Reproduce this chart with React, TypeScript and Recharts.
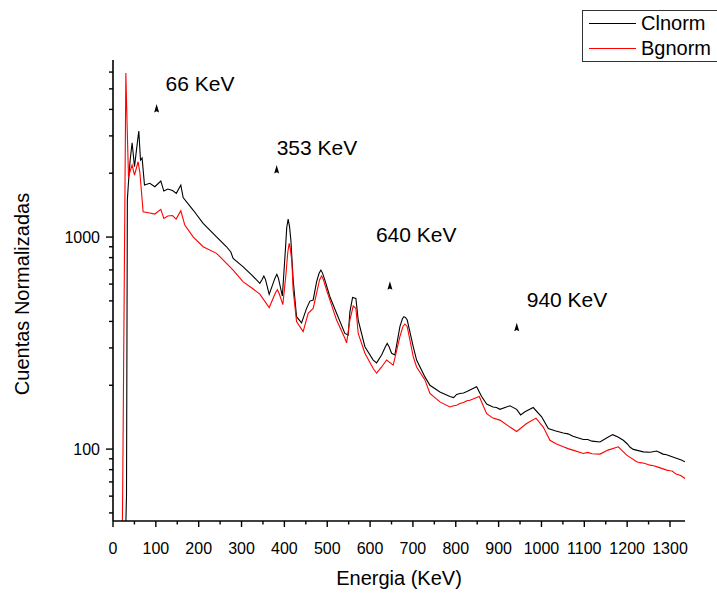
import { LineChart, Line, XAxis, YAxis, ReferenceDot, Legend } from "recharts";

// Clnorm spectrum (energy in KeV, normalized counts)
const clEnergy = [
  26, 31.5, 33.5, 36.2, 40, 44.6, 50.2, 55, 60.2, 64.2, 67.9, 73.5, 85.9, 97.6, 111.6, 118.6, 127.9, 138.9,
  147.8, 158.3, 163.7, 187, 210.4, 241.6, 265, 275, 280.4, 303.8, 324.1, 342.7, 348, 352.1, 356, 364.5, 378,
  382.4, 386, 395.3, 402.3, 405.5, 408.8, 412, 415.1, 420.5, 428.4, 440.1, 451.8, 459.5, 467.2, 475.1, 481,
  485.2, 489, 494.5, 506.2, 521.8, 541.2, 548.9, 552.9, 559.2, 566.9, 572.3, 587.9, 607.3, 615.2, 626.9, 636,
  640, 644, 650.2, 657.9, 669.6, 675.5, 679, 683, 686.7, 700.7, 708.6, 728, 739.7, 763, 786.4, 795, 802, 809.7,
  818, 826, 833.1, 848.7, 860.4, 872.1, 886.8, 895, 903.1, 926.4, 942.1, 951.4, 961.5, 980.8, 1000.4, 1015.9,
  1031.5, 1050.9, 1062, 1073.5, 1097.6, 1108, 1117.9, 1136.6, 1152.9, 1166.2, 1178.6, 1191, 1200, 1207, 1214.3,
  1237.7, 1253.3, 1269, 1283.7, 1292, 1300, 1316.4, 1325, 1335,
];
const clCounts = [
  20, 60, 1500, 1823, 2300, 2785, 2146, 2600, 3162, 2307, 2359, 1759, 1792, 1727, 1837, 1648, 1684, 1657,
  1607, 1759, 1536, 1341, 1160, 1003, 900, 850, 793, 724, 662, 605, 630, 655, 630, 537, 640,
  667, 640, 527, 868, 1110, 1216, 1120, 968, 627, 421, 394, 461, 499, 505, 615, 675,
  699, 676, 627, 523, 437, 351, 345, 444, 519, 514, 406, 304, 263, 255, 278, 305,
  315, 305, 283, 278, 378, 412, 421, 417, 406, 304, 263, 219, 200, 186, 177, 175, 181, 183,
  184, 187, 190, 197, 177, 163, 158, 157, 154, 160, 154, 145, 150, 157, 142, 125,
  122, 119, 118, 115, 111, 111, 109, 108, 113, 117, 114, 110, 106, 102, 99.7,
  97, 96.7, 97.9, 94.7, 94, 92.7, 90.2, 89, 87.1,
];

// Bgnorm spectrum
const bgEnergy = [
  20, 22.5, 30, 32.9, 36.2, 39.2, 44.6, 50.2, 58.6, 62.6, 70.3, 85.9, 97.6, 111.6, 118.6, 127.9, 138.9, 147.3,
  158.3, 167.6, 187, 210.4, 241.6, 265, 280.4, 303.8, 324.1, 342.7, 364.5, 379, 383.6, 388, 396.4, 403.5, 408,
  411.2, 414, 417.5, 420.5, 428.4, 443.8, 455.5, 467.2, 475.1, 482, 486.8, 491, 498.5, 521.8, 541.2, 545.2,
  552.9, 560.6, 566.9, 572.3, 587.9, 607.3, 615.2, 626.9, 638.6, 654, 669.6, 677, 681.3, 686.7, 700.7, 708.6,
  728, 739.7, 763, 786.4, 795, 802, 809.7, 818, 826, 833.1, 854.8, 872.1, 886.8, 903.1, 926.4, 942.1, 965.4,
  987.2, 1004.2, 1019.8, 1033.8, 1050.9, 1062, 1073.5, 1097.6, 1108, 1117.9, 1136.6, 1155.3, 1179.3, 1198.9,
  1222.3, 1230, 1240, 1253.3, 1262, 1272, 1292.3, 1300, 1305, 1314.1, 1325, 1335,
];
const bgCounts = [
  20, 60, 5935, 3375, 1919, 2026, 2186, 1961, 2266, 2026, 1316, 1298, 1284, 1351, 1225, 1256, 1263, 1216,
  1331, 1139, 1003, 900, 838, 751, 699, 615, 575, 538, 465, 545, 565, 540, 480, 662, 850,
  934, 880, 762, 562, 399, 358, 437, 461, 543, 628, 655, 630, 562, 406, 333, 317,
  406, 473, 461, 351, 283, 240, 228, 244, 263, 249, 339, 380, 389, 378, 273, 244,
  212, 183, 167, 158, 160, 161, 164, 166, 169, 170, 177, 147, 140, 137, 127, 121, 132,
  140, 127, 110, 106, 102.5, 100.5, 98.9, 95.4, 96.5, 95, 94.7, 98.9, 102.5, 93.7,
  87.1, 86.3, 85.8, 84, 83.5, 82.2, 79.6, 79, 78.8, 76.2, 75, 72.7,
];

// peak markers
const peakLabels = ["66 KeV", "353 KeV", "640 KeV", "940 KeV"];
const peakEnergy = [101.8, 382, 646.3, 942.3];
const peakCounts = [4037, 2082, 590, 376];
const labelOffset = [
  { dx: 9, dy: -18 },
  { dx: 0, dy: -15 },
  { dx: -14, dy: -44 },
  { dx: 10, dy: -20 },
];

const xTicks = [
  0, 50, 100, 150, 200, 250, 300, 350, 400, 450, 500, 550, 600, 650, 700, 750, 800, 850, 900, 950, 1000, 1050,
  1100, 1150, 1200, 1250, 1300,
];
const yTicks = [50, 60, 70, 80, 90, 100, 200, 300, 400, 500, 600, 700, 800, 900, 1000, 2000, 3000, 4000, 5000, 6000];
const yLabeled = [100, 1000];

const clData = clEnergy.map((e, i) => ({ e, v: clCounts[i] }));
const bgData = bgEnergy.map((e, i) => ({ e, v: bgCounts[i] }));

function XTick({ x, y, payload }: any) {
  const major = payload.value % 100 === 0;
  return (
    <g>
      <line x1={x} x2={x} y1={y} y2={y + (major ? 6 : 3.5)} stroke="#000" strokeWidth={1.4} />
      {major && (
        <text x={x} y={y + 33} textAnchor="middle" fontSize={16} fill="#000">
          {payload.value}
        </text>
      )}
    </g>
  );
}

function YTick({ x, y, payload }: any) {
  const major = yLabeled.includes(payload.value);
  return (
    <g>
      <line x1={x - (major ? 7 : 4)} x2={x} y1={y} y2={y} stroke="#000" strokeWidth={1.4} />
      {major && (
        <text x={x - 13} y={y + 6} textAnchor="end" fontSize={16} fill="#000">
          {payload.value}
        </text>
      )}
    </g>
  );
}

function PeakMark({ cx, cy, i }: any) {
  const o = labelOffset[i];
  return (
    <g>
      <path
        d={`M${cx},${cy - 4.5} L${cx + 2.5},${cy + 4} L${cx},${cy + 2.8} L${cx - 2.5},${cy + 4} Z`}
        fill="#000"
      />
      <text x={cx + o.dx} y={cy + o.dy} fontSize={21} fill="#000">
        {peakLabels[i]}
      </text>
    </g>
  );
}

function LegendBox() {
  const rows = [
    { name: "Clnorm", color: "#000" },
    { name: "Bgnorm", color: "#ff0000" },
  ];
  return (
    <div style={{ border: "1px solid #333", background: "#fff", width: 150, paddingLeft: 6 }}>
      {rows.map((r) => (
        <div key={r.name} style={{ display: "flex", alignItems: "center", height: 25 }}>
          <div style={{ width: 47, borderTop: `1px solid ${r.color}`, marginRight: 5 }} />
          <span style={{ fontSize: 20, lineHeight: "25px", color: "#000" }}>{r.name}</span>
        </div>
      ))}
    </div>
  );
}

export default function App() {
  return (
    <div
      style={{
        position: "absolute",
        left: 0,
        top: 0,
        width: 717,
        height: 595,
        overflow: "hidden",
        background: "#fff",
        fontFamily: "'Liberation Sans', Arial, sans-serif",
      }}
    >
      <LineChart width={717} height={595} margin={{ top: 60, right: 32, bottom: 0, left: 13 }}>
        <XAxis
          dataKey="e"
          type="number"
          domain={[0, 1335]}
          allowDataOverflow
          ticks={xTicks}
          interval={0}
          height={74}
          tickSize={0}
          tickMargin={0}
          tickLine={false}
          tick={<XTick />}
          axisLine={{ stroke: "#000", strokeWidth: 1.6 }}
          label={{ value: "Energia (KeV)", position: "insideBottom", offset: 10, fontSize: 20, fill: "#000" }}
        />
        <YAxis
          dataKey="v"
          type="number"
          scale="log"
          domain={[45.8, 6840]}
          allowDataOverflow
          ticks={yTicks}
          interval={0}
          width={100}
          tickSize={0}
          tickMargin={0}
          tickLine={false}
          tick={<YTick />}
          axisLine={{ stroke: "#000", strokeWidth: 1.6 }}
          label={{
            content: () => (
              <text transform="translate(22,294) rotate(-90)" textAnchor="middle" dominantBaseline="central" fontSize={20} fill="#000">
                Cuentas Normalizadas
              </text>
            ),
          }}
        />
        <Legend
          layout="vertical"
          align="center"
          verticalAlign="middle"
          wrapperStyle={{ top: 10, left: 582, width: 160 }}
          content={() => <LegendBox />}
        />
        <Line data={clData} dataKey="v" name="Clnorm" type="linear" stroke="#000" strokeWidth={1.1} dot={false} isAnimationActive={false} />
        <Line data={bgData} dataKey="v" name="Bgnorm" type="linear" stroke="#ff0000" strokeWidth={1.1} dot={false} isAnimationActive={false} />
        {peakLabels.map((_, i) => (
          <ReferenceDot
            key={i}
            x={peakEnergy[i]}
            y={peakCounts[i]}
            r={3}
            shape={(p: any) => <PeakMark cx={p.cx} cy={p.cy} i={i} />}
          />
        ))}
      </LineChart>
    </div>
  );
}
